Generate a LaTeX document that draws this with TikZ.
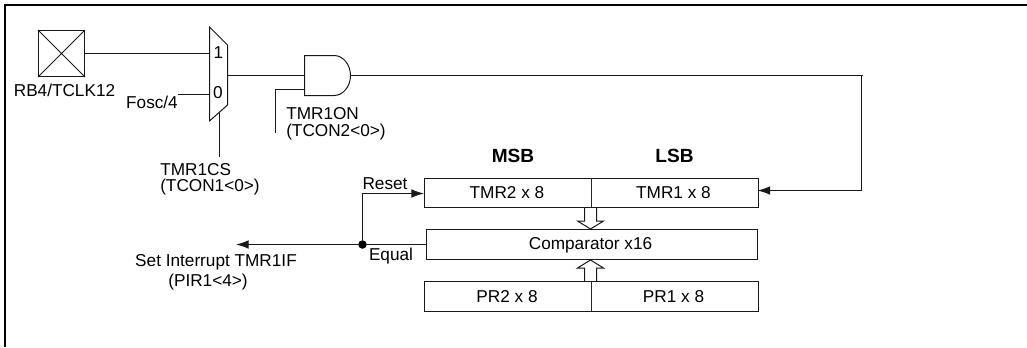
\documentclass[tikz,border=0pt]{standalone}
\usepackage{fontspec}
\setmainfont{Liberation Sans}
\usetikzlibrary{arrows.meta}
\tikzset{
  wire/.style={draw=black!90,line width=0.75pt},
  arrowwire/.style={wire,-{Latex[length=9.5pt,width=6.5pt]}},
  lbl/.style={inner sep=0pt,font=\fontsize{12.9pt}{15pt}\selectfont},
  lblL/.style={lbl,anchor=west,align=left},
  regbox/.style={draw=black!90,line width=0.75pt,fill=white,inner sep=0pt,anchor=north west},
  divider/.style={draw=black!85,line width=1.3pt},
  hollow/.style={draw=black!90,line width=0.75pt,fill=white,line join=miter},
  dotnode/.style={circle,fill=black,inner sep=0pt,minimum size=6.4pt}
}
\begin{document}
\begin{tikzpicture}[x=0.75pt,y=-0.75pt]
\useasboundingbox (0,0) rectangle (1027,347);
% frame
\draw[black,line width=1.7pt] (4.7,347) -- (4.7,5.2) -- (1027,5.2);
% pad
\node[draw=black!90,line width=0.75pt,minimum width=34.5pt,minimum height=34.5pt,inner sep=0pt] (pad) at (61.5,53.5) {};
\draw[wire,line width=0.65pt] (pad.north west) -- (pad.south east) (pad.north east) -- (pad.south west);
\node[lbl] (padl) at (64.5,90) {RB4/TCLK12};
% mux
\coordinate (m1) at (209.5,27);
\coordinate (m2) at (227.5,45);
\coordinate (m3) at (227.5,105);
\coordinate (m4) at (209.5,121);
\draw[wire] (m1) -- (m2) -- (m3) -- (m4) -- cycle;
\coordinate (mi1) at (209.5,53.5);
\coordinate (mi0) at (209.5,94.5);
\coordinate (mo) at (227.5,75.5);
\coordinate (ms) at (219.5,113);
\coordinate (mse) at (219.5,157);
\node[lbl] (n1) at (218.5,53) {1};
\node[lbl] (n0) at (218,93) {0};
\draw[wire] (pad.east) -- (mi1);
\coordinate (fe) at (178,94.5);
\draw[wire] (fe) -- (mi0);
\node[lbl] (fosc) at (152,102.5) {Fosc/4};
\draw[wire] (ms) -- (mse);
\node[lblL] (cs) at (160,170) {TMR1CS};
\node[lblL] (cs2) at (160,187.5) {(TCON1<0>)};
% AND gate
\coordinate (aw) at (304.5,55.5);
\draw[wire] (aw) -- (334,55.5) .. controls (343,55.5) and (350.5,64.5) .. (350.5,75.5) .. controls (350.5,86.5) and (343,95.5) .. (334,95.5) -- (304.5,95.5) -- cycle;
\coordinate (ai1) at (304.5,75.5);
\coordinate (ai2) at (304.5,89.5);
\coordinate (ao) at (350.5,75.5);
\draw[wire] (mo) -- (ai1);
\coordinate (ens) at (275.5,133);
\draw[wire] (ens) |- (ai2);
\node[lblL] (on) at (286,114) {TMR1ON};
\node[lblL] (on2) at (286,132) {(TCON2<0>)};
% hollow arrows (behind the registers)
\draw[hollow] (584.5,204) -- (584.5,221) -- (577.5,221) -- (590.5,229) -- (603.5,221) -- (596.5,221) -- (596.5,204);
\draw[hollow] (584.5,284) -- (584.5,268) -- (577.5,268) -- (590.5,260) -- (603.5,268) -- (596.5,268) -- (596.5,284);
% registers
\node[regbox,minimum width=125.25pt,minimum height=22pt] (tmr2) at (423.5,177.5) {};
\node[regbox,minimum width=125.25pt,minimum height=22pt] (tmr1) at (590.5,177.5) {};
\node[regbox,minimum width=248.25pt,minimum height=22.5pt] (cmp) at (425.5,228.5) {};
\node[regbox,minimum width=125.25pt,minimum height=22.5pt] (pr2) at (423.5,280.5) {};
\node[regbox,minimum width=125.25pt,minimum height=22.5pt] (pr1) at (590.5,280.5) {};
\draw[divider] (tmr2.north east) -- (tmr2.south east);
\draw[divider] (pr2.north east) -- (pr2.south east);
\node[lbl] (tl2) at (507,193) {TMR2 x 8};
\node[lbl] (tl1) at (673.5,193) {TMR1 x 8};
\node[lbl] (cl) at (590.5,245) {Comparator x16};
\node[lbl] (pl2) at (507,297) {PR2 x 8};
\node[lbl] (pl1) at (673.5,297) {PR1 x 8};
\node[lbl,font=\fontsize{14.3pt}{16pt}\selectfont\bfseries] (msb) at (513,156) {MSB};
\node[lbl,font=\fontsize{14.3pt}{16pt}\selectfont\bfseries] (lsb) at (674.5,156) {LSB};
% clock wire
\coordinate (c1) at (861.5,75.5);
\coordinate (c2) at (861.5,190.5);
\coordinate (c3) at (757.5,190.5);
\draw[wire] (ao) -- (863,75.5);
\draw[arrowwire] (c1) -- (c2) -- (c3);
% equal / reset
\node[dotnode] (dot) at (362.5,244.5) {};
\coordinate (setend) at (236,244.5);
\coordinate (cw) at (425.5,244.5);
\coordinate (rt) at (362.5,193.5);
\coordinate (re) at (424,193.5);
\draw[wire] (cw) -- (dot);
\draw[arrowwire] (dot) -- (setend);
\draw[arrowwire] (dot) -- (rt) -- (re);
\node[lbl] (rl) at (385,184) {Reset};
\node[lbl] (el) at (391,256.5) {Equal};
\node[lbl] (si) at (216,262.5) {Set Interrupt TMR1IF};
\node[lbl] (si2) at (208,282) {(PIR1<4>)};
\end{tikzpicture}
\end{document}
